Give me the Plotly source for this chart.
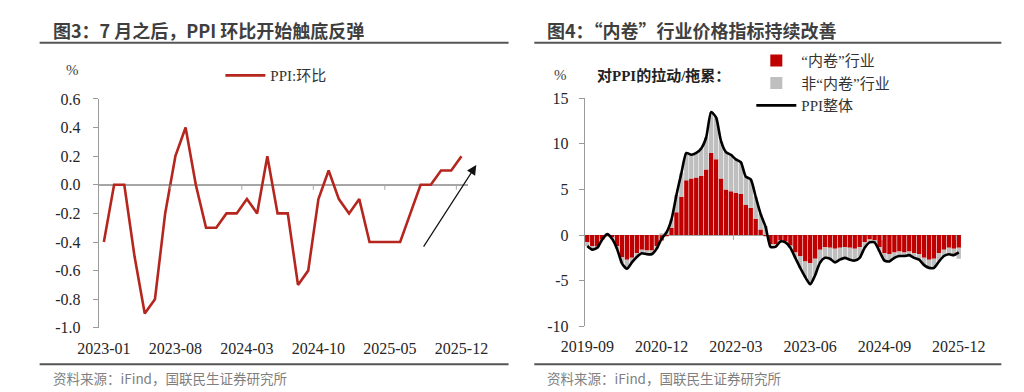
import plotly.graph_objects as go

# ---------------- Left chart data: PPI month-on-month ----------------
months_l = [f"{y}-{m:02d}" for y in (2023, 2024, 2025) for m in range(1, 13)]
ppi_mom = [-0.4, 0.0, 0.0, -0.5, -0.9, -0.8, -0.2, 0.2, 0.4, 0.0, -0.3, -0.3,
           -0.2, -0.2, -0.1, -0.2, 0.2, -0.2, -0.2, -0.7, -0.6, -0.1, 0.1, -0.1,
           -0.2, -0.1, -0.4, -0.4, -0.4, -0.4, -0.2, 0.0, 0.0, 0.1, 0.1, 0.2]
yticks_l = [0.6, 0.4, 0.2, 0.0, -0.2, -0.4, -0.6, -0.8, -1.0]
yticktext_l = ["0.6", "0.4", "0.2", "0.0", "-0.2", "-0.4", "-0.6", "-0.8", "-1.0"]

# ---------------- Right chart data: contribution to PPI YoY ----------------
months_r = ([f"2019-{m:02d}" for m in range(9, 13)] +
            [f"{y}-{m:02d}" for y in range(2020, 2026) for m in range(1, 13)])
neijuan = [-0.8, -1.2, -1.3, -0.5, -0.1, -0.3, -1.2, -2.4, -2.7, -2.5, -2.0, -1.6,
           -1.7, -1.7, -1.2, -0.6, -0.1, 0.8, 2.5, 4.2, 6.0, 6.2, 6.3, 6.5,
           7.2, 9.0, 8.3, 6.2, 5.0, 4.8, 4.6, 4.5, 3.3, 3.0, 1.8, 0.6,
           -0.1, -1.0, -1.0, -0.6, -0.7, -1.2, -1.9, -2.3, -2.9, -3.1, -2.6, -1.6,
           -1.3, -1.4, -1.5, -1.4, -1.3, -1.4, -1.5, -1.3, -0.8, -0.5, -0.6, -1.3,
           -2.0, -2.1, -1.9, -1.8, -1.9, -1.8, -2.0, -2.1, -2.5, -2.7, -2.6, -2.0,
           -1.6, -1.4, -1.5, -1.4]
non_neijuan = [-0.4, -0.4, -0.1, 0.0, 0.2, -0.1, -0.3, -0.7, -1.0, -0.5, -0.4, -0.4,
               -0.4, -0.4, -0.3, 0.2, 0.4, 0.9, 1.9, 2.6, 3.0, 2.6, 2.7, 3.0,
               3.5, 4.5, 4.6, 4.1, 4.1, 4.0, 3.7, 3.5, 3.1, 3.1, 2.4, 1.7,
               1.0, -0.3, -0.3, -0.1, -0.1, -0.2, -0.6, -1.3, -1.7, -2.3, -1.8, -1.4,
               -1.2, -1.2, -1.5, -1.3, -1.2, -1.3, -1.3, -1.2, -0.6, -0.3, -0.2, -0.5,
               -0.8, -0.8, -0.6, -0.5, -0.4, -0.4, -0.5, -0.6, -0.8, -0.9, -1.0, -0.9,
               -0.7, -0.7, -0.7, -1.2]
ppi_yoy = [-1.2, -1.6, -1.4, -0.5, 0.1, -0.4, -1.5, -3.1, -3.7, -3.0, -2.4, -2.0,
           -2.1, -2.1, -1.5, -0.4, 0.3, 1.7, 4.4, 6.8, 9.0, 8.8, 9.0, 9.5,
           10.7, 13.5, 12.9, 10.3, 9.1, 8.8, 8.3, 8.0, 6.4, 6.1, 4.2, 2.3,
           0.9, -1.3, -1.3, -0.7, -0.8, -1.4, -2.5, -3.6, -4.6, -5.4, -4.4, -3.0,
           -2.5, -2.6, -3.0, -2.7, -2.5, -2.7, -2.8, -2.5, -1.4, -0.8, -0.8, -1.8,
           -2.8, -2.9, -2.5, -2.3, -2.3, -2.2, -2.5, -2.7, -3.3, -3.6, -3.6, -2.9,
           -2.3, -2.1, -2.2, -1.9]
yticks_r = [15, 10, 5, 0, -5, -10]
yticktext_r = ["15", "10", "5", "0", "-5", "-10"]

SERIF = "Liberation Serif, Times New Roman, Noto Sans CJK SC, serif"
CJK = "Noto Sans CJK SC, sans-serif"
AXC = "#9a9a9a"
TXT = "#262626"

fig = go.Figure()

fig.add_trace(go.Scatter(x=months_l, y=ppi_mom, mode="lines", name="PPI:环比",
                         line=dict(color="#B5271E", width=2.6),
                         xaxis="x", yaxis="y", legend="legend"))

fig.add_trace(go.Bar(x=months_r, y=neijuan, name="“内卷”行业",
                     marker=dict(color="#C00000", line=dict(width=0)),
                     xaxis="x2", yaxis="y2", legend="legend2"))
fig.add_trace(go.Bar(x=months_r, y=non_neijuan, name="非“内卷”行业",
                     marker=dict(color="#BFBFBF", line=dict(width=0)),
                     xaxis="x2", yaxis="y2", legend="legend2"))
fig.add_trace(go.Scatter(x=months_r, y=ppi_yoy, mode="lines", name="PPI整体",
                         line=dict(color="#000000", width=2.6, shape="spline", smoothing=0.6),
                         xaxis="x2", yaxis="y2", legend="legend2"))

axis_common = dict(showgrid=False, showline=True, linecolor=AXC, linewidth=1.2,
                   ticks="outside", tickcolor=AXC, ticklen=5,
                   tickfont=dict(family=SERIF, size=16, color=TXT))

fig.update_layout(
    width=1024, height=392,
    margin=dict(l=0, r=0, t=0, b=0),
    paper_bgcolor="white", plot_bgcolor="white",
    barmode="relative", bargap=0.12,
    xaxis=dict(domain=[0.0684, 0.4463], type="category", range=[-0.5, 35.6],
               tickmode="linear", tick0=0, dtick=7, showline=False, ticks="",
               showgrid=False, zeroline=False, ticklabelstandoff=9,
               tickfont=dict(family=SERIF, size=16, color=TXT), anchor="y"),
    yaxis=dict(domain=[0.1684, 0.7788], range=[-1.0, 0.6], tickvals=yticks_l,
               ticktext=yticktext_l, zeroline=True, zerolinecolor="#a6a6a6",
               zerolinewidth=1.5, anchor="x", ticklabelstandoff=9, **axis_common),
    xaxis2=dict(domain=[0.5664, 0.9521], type="category", range=[-0.5, 75.5],
                tickmode="linear", tick0=0, dtick=15, showline=False, ticks="",
                showgrid=False, zeroline=False, ticklabelstandoff=9,
                tickfont=dict(family=SERIF, size=16, color=TXT), anchor="y2"),
    yaxis2=dict(domain=[0.1727, 0.7806], range=[-10, 15], tickvals=yticks_r,
                ticktext=yticktext_r, zeroline=True, zerolinecolor="#a6a6a6",
                zerolinewidth=1.2, anchor="x2", ticklabelstandoff=7, **axis_common),
    legend=dict(x=0.193, y=0.885, xanchor="left", yanchor="top", bgcolor="rgba(0,0,0,0)",
                font=dict(family=SERIF, size=15, color="#333333"), itemwidth=40),
    legend2=dict(x=0.737, y=0.925, xanchor="left", yanchor="top", bgcolor="rgba(0,0,0,0)",
                 font=dict(family=SERIF, size=15, color="#333333"), itemwidth=40,
                 traceorder="normal", tracegroupgap=0),
    showlegend=True,
)

# zero-line tick marks at category boundaries (before each labelled month)
shapes = []
for i in range(7, len(months_l), 7):
    shapes.append(dict(type="line", xref="x", yref="y", x0=i - 0.5, x1=i - 0.5,
                       y0=0, y1=-0.035, line=dict(color="#a6a6a6", width=1)))
for i in range(15, len(months_r), 15):
    shapes.append(dict(type="line", xref="x2", yref="y2", x0=i - 0.5, x1=i - 0.5,
                       y0=0, y1=-0.55, line=dict(color="#a6a6a6", width=1)))
# title underlines and footer rules
for x0, x1 in ((8 / 1024, 500 / 1024), (527 / 1024, 1017 / 1024)):
    shapes.append(dict(type="line", xref="paper", yref="paper", x0=x0, x1=x1,
                       y0=1 - 28 / 392, y1=1 - 28 / 392, line=dict(color="#555555", width=2)))
    shapes.append(dict(type="line", xref="paper", yref="paper", x0=x0, x1=x1,
                       y0=1 - 364 / 392, y1=1 - 364 / 392, line=dict(color="#555555", width=2)))
fig.update_layout(shapes=shapes)

ann = []
ann.append(dict(text="<b>图3：7 月之后，PPI 环比开始触底反弹</b>", x=20 / 1024, y=1 - 15 / 392,
                xref="paper", yref="paper", xanchor="left", yanchor="middle", showarrow=False,
                font=dict(family=CJK, size=18, color="#3f3f3f")))
ann.append(dict(text="<b>图4：“内卷”行业价格指标持续改善</b>", x=538 / 1024, y=1 - 15 / 392,
                xref="paper", yref="paper", xanchor="left", yanchor="middle", showarrow=False,
                font=dict(family=CJK, size=18, color="#3f3f3f")))
for xx in (20, 538):
    ann.append(dict(text="资料来源：iFind，国联民生证券研究所", x=xx / 1024, y=1 - 378 / 392,
                    xref="paper", yref="paper", xanchor="left", yanchor="middle", showarrow=False,
                    font=dict(family=CJK, size=13.5, color="#7f7f7f")))
ann.append(dict(text="%", x=43 / 1024, y=1 - 56 / 392, xref="paper", yref="paper",
                xanchor="center", yanchor="middle", showarrow=False,
                font=dict(family=SERIF, size=15, color="#444444")))
ann.append(dict(text="%", x=555 / 1024, y=1 - 62 / 392, xref="paper", yref="paper",
                xanchor="center", yanchor="middle", showarrow=False,
                font=dict(family=SERIF, size=15, color="#444444")))
ann.append(dict(text="<b>对PPI的拉动/拖累：</b>", x=591 / 1024, y=1 - 62 / 392, xref="paper", yref="paper",
                xanchor="left", yanchor="middle", showarrow=False,
                font=dict(family=SERIF, size=15, color="#222222")))
# trend arrow on left chart
ann.append(dict(x=36.45, y=0.138, ax=31.2, ay=-0.443, xref="x", yref="y", axref="x", ayref="y",
                text="", showarrow=True, arrowhead=2, arrowsize=1.6, arrowwidth=1.2,
                arrowcolor="#111111"))
fig.update_layout(annotations=ann)

fig.write_html("out.html")
